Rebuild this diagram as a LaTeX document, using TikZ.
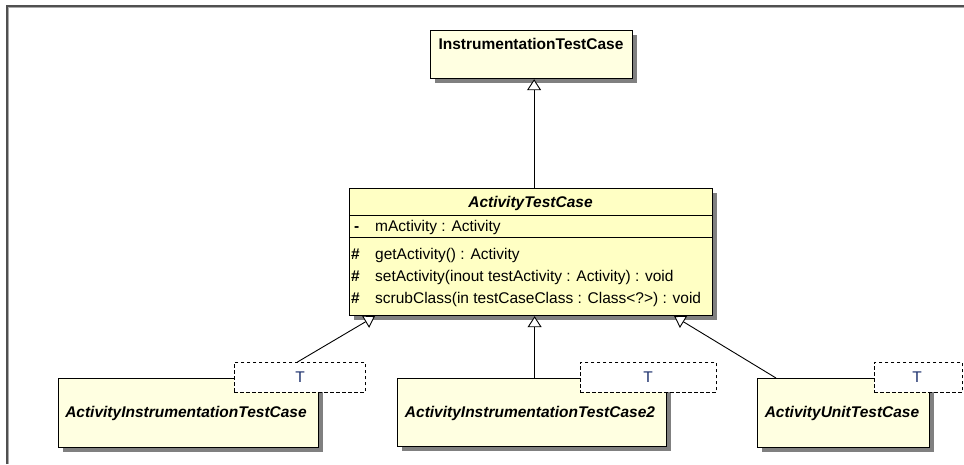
\documentclass[tikz,border=0pt]{standalone}
\usepackage{fontspec}
\setmainfont{Liberation Sans}
\usetikzlibrary{arrows.meta,shadows}
\definecolor{classfill}{RGB}{255,255,225}
\definecolor{absfill}{RGB}{255,255,196}
\definecolor{shadowgray}{RGB}{128,128,128}
\definecolor{tblue}{RGB}{30,50,110}
\definecolor{framedark}{RGB}{80,80,80}
\definecolor{framelight}{RGB}{170,170,170}
\tikzset{
  classbox/.style={draw=black, line width=1.2pt, fill=#1, inner sep=0pt, anchor=north west,
    drop shadow={shadow xshift=4pt, shadow yshift=-4pt, fill=shadowgray, opacity=1}},
  tparam/.style={draw=black, line width=0.9pt, dash pattern=on 3.5pt off 2.5pt, fill=white,
    inner sep=0pt, anchor=north west},
  txt/.style={inner sep=0pt, font=\fontsize{15.5}{17}\selectfont},
  cname/.style={txt, font=\fontsize{15.5}{17}\selectfont\bfseries},
  aname/.style={txt, font=\fontsize{15.5}{17}\selectfont\bfseries\itshape},
  inh/.style={draw=black, line width=0.9pt, -{Triangle[open, length=11pt, width=14pt, fill=white]}},
}
\begin{document}
\begin{tikzpicture}[x=1pt,y=-1pt]
\useasboundingbox (0,0) rectangle (964,464);
% frame
\draw[framelight, line width=1pt] (8.5,464) -- (8.5,7.5) -- (964,7.5);
\draw[framedark, line width=1.2pt] (7,464) -- (7,6) -- (964,6);

% InstrumentationTestCase
\node[classbox=classfill, minimum width=202pt, minimum height=48pt] (itc) at (430,30) {};
\node[cname, anchor=base] (itcname) at (531,49) {InstrumentationTestCase};

% ActivityTestCase
\node[classbox=absfill, minimum width=363pt, minimum height=127pt] (atc) at (349,188) {};
\node[aname, anchor=base] (atcname) at (530.5,207.5) {ActivityTestCase};
\draw[line width=0.9pt] (349,215) -- (712,215);
\draw[line width=0.9pt] (349,237) -- (712,237);
\node[cname, anchor=base west] (v1) at (354,231.5) {-};
\node[txt, anchor=base west] (a1) at (375,231.5) {mActivity : Activity};
\node[cname, anchor=base west] (v2) at (351,259.5) {\#};
\node[txt, anchor=base west] (m1) at (375,259.5) {getActivity() : Activity};
\node[cname, anchor=base west] (v3) at (351,281.5) {\#};
\node[txt, anchor=base west] (m2) at (375,281.5) {setActivity(inout testActivity : Activity) : void};
\node[cname, anchor=base west] (v4) at (351,303.5) {\#};
\node[txt, anchor=base west] (m3) at (375,303.5) {scrubClass(in testCaseClass : Class<?>) : void};

% bottom classes
\node[classbox=classfill, minimum width=260pt, minimum height=69pt] (c1) at (58,378) {};
\node[tparam, minimum width=131pt, minimum height=30pt] (t1) at (234,362) {};
\node[txt, text=tblue, anchor=base] (t1l) at (300,382.5) {T};
\node[aname, anchor=base] (c1name) at (186,417.5) {ActivityInstrumentationTestCase};

\node[classbox=classfill, minimum width=269pt, minimum height=68pt] (c2) at (397,378) {};
\node[tparam, minimum width=136pt, minimum height=30pt] (t2) at (580,362) {};
\node[txt, text=tblue, anchor=base] (t2l) at (648,382.5) {T};
\node[aname, anchor=base] (c2name) at (530,417.5) {ActivityInstrumentationTestCase2};

\node[classbox=classfill, minimum width=172pt, minimum height=69pt] (c3) at (757,378) {};
\node[tparam, minimum width=88pt, minimum height=30pt] (t3) at (874,362) {};
\node[txt, text=tblue, anchor=base] (t3l) at (917,382.5) {T};
\node[aname, anchor=base] (c3name) at (842,417.5) {ActivityUnitTestCase};

% generalizations
\draw[inh] ([xshift=3pt]atc.north) -- ([xshift=3pt]atc.north |- itc.south);
\draw[inh] ([xshift=2.5pt]c2.north) -- ([xshift=2.5pt]c2.north |- atc.south);
\draw[inh] ([xshift=-2.5pt]t1.north) -- ([xshift=26pt]atc.south west);
\draw[inh] ([xshift=19pt]c3.north west) -- ([xshift=-39pt]atc.south east);
\end{tikzpicture}
\end{document}
